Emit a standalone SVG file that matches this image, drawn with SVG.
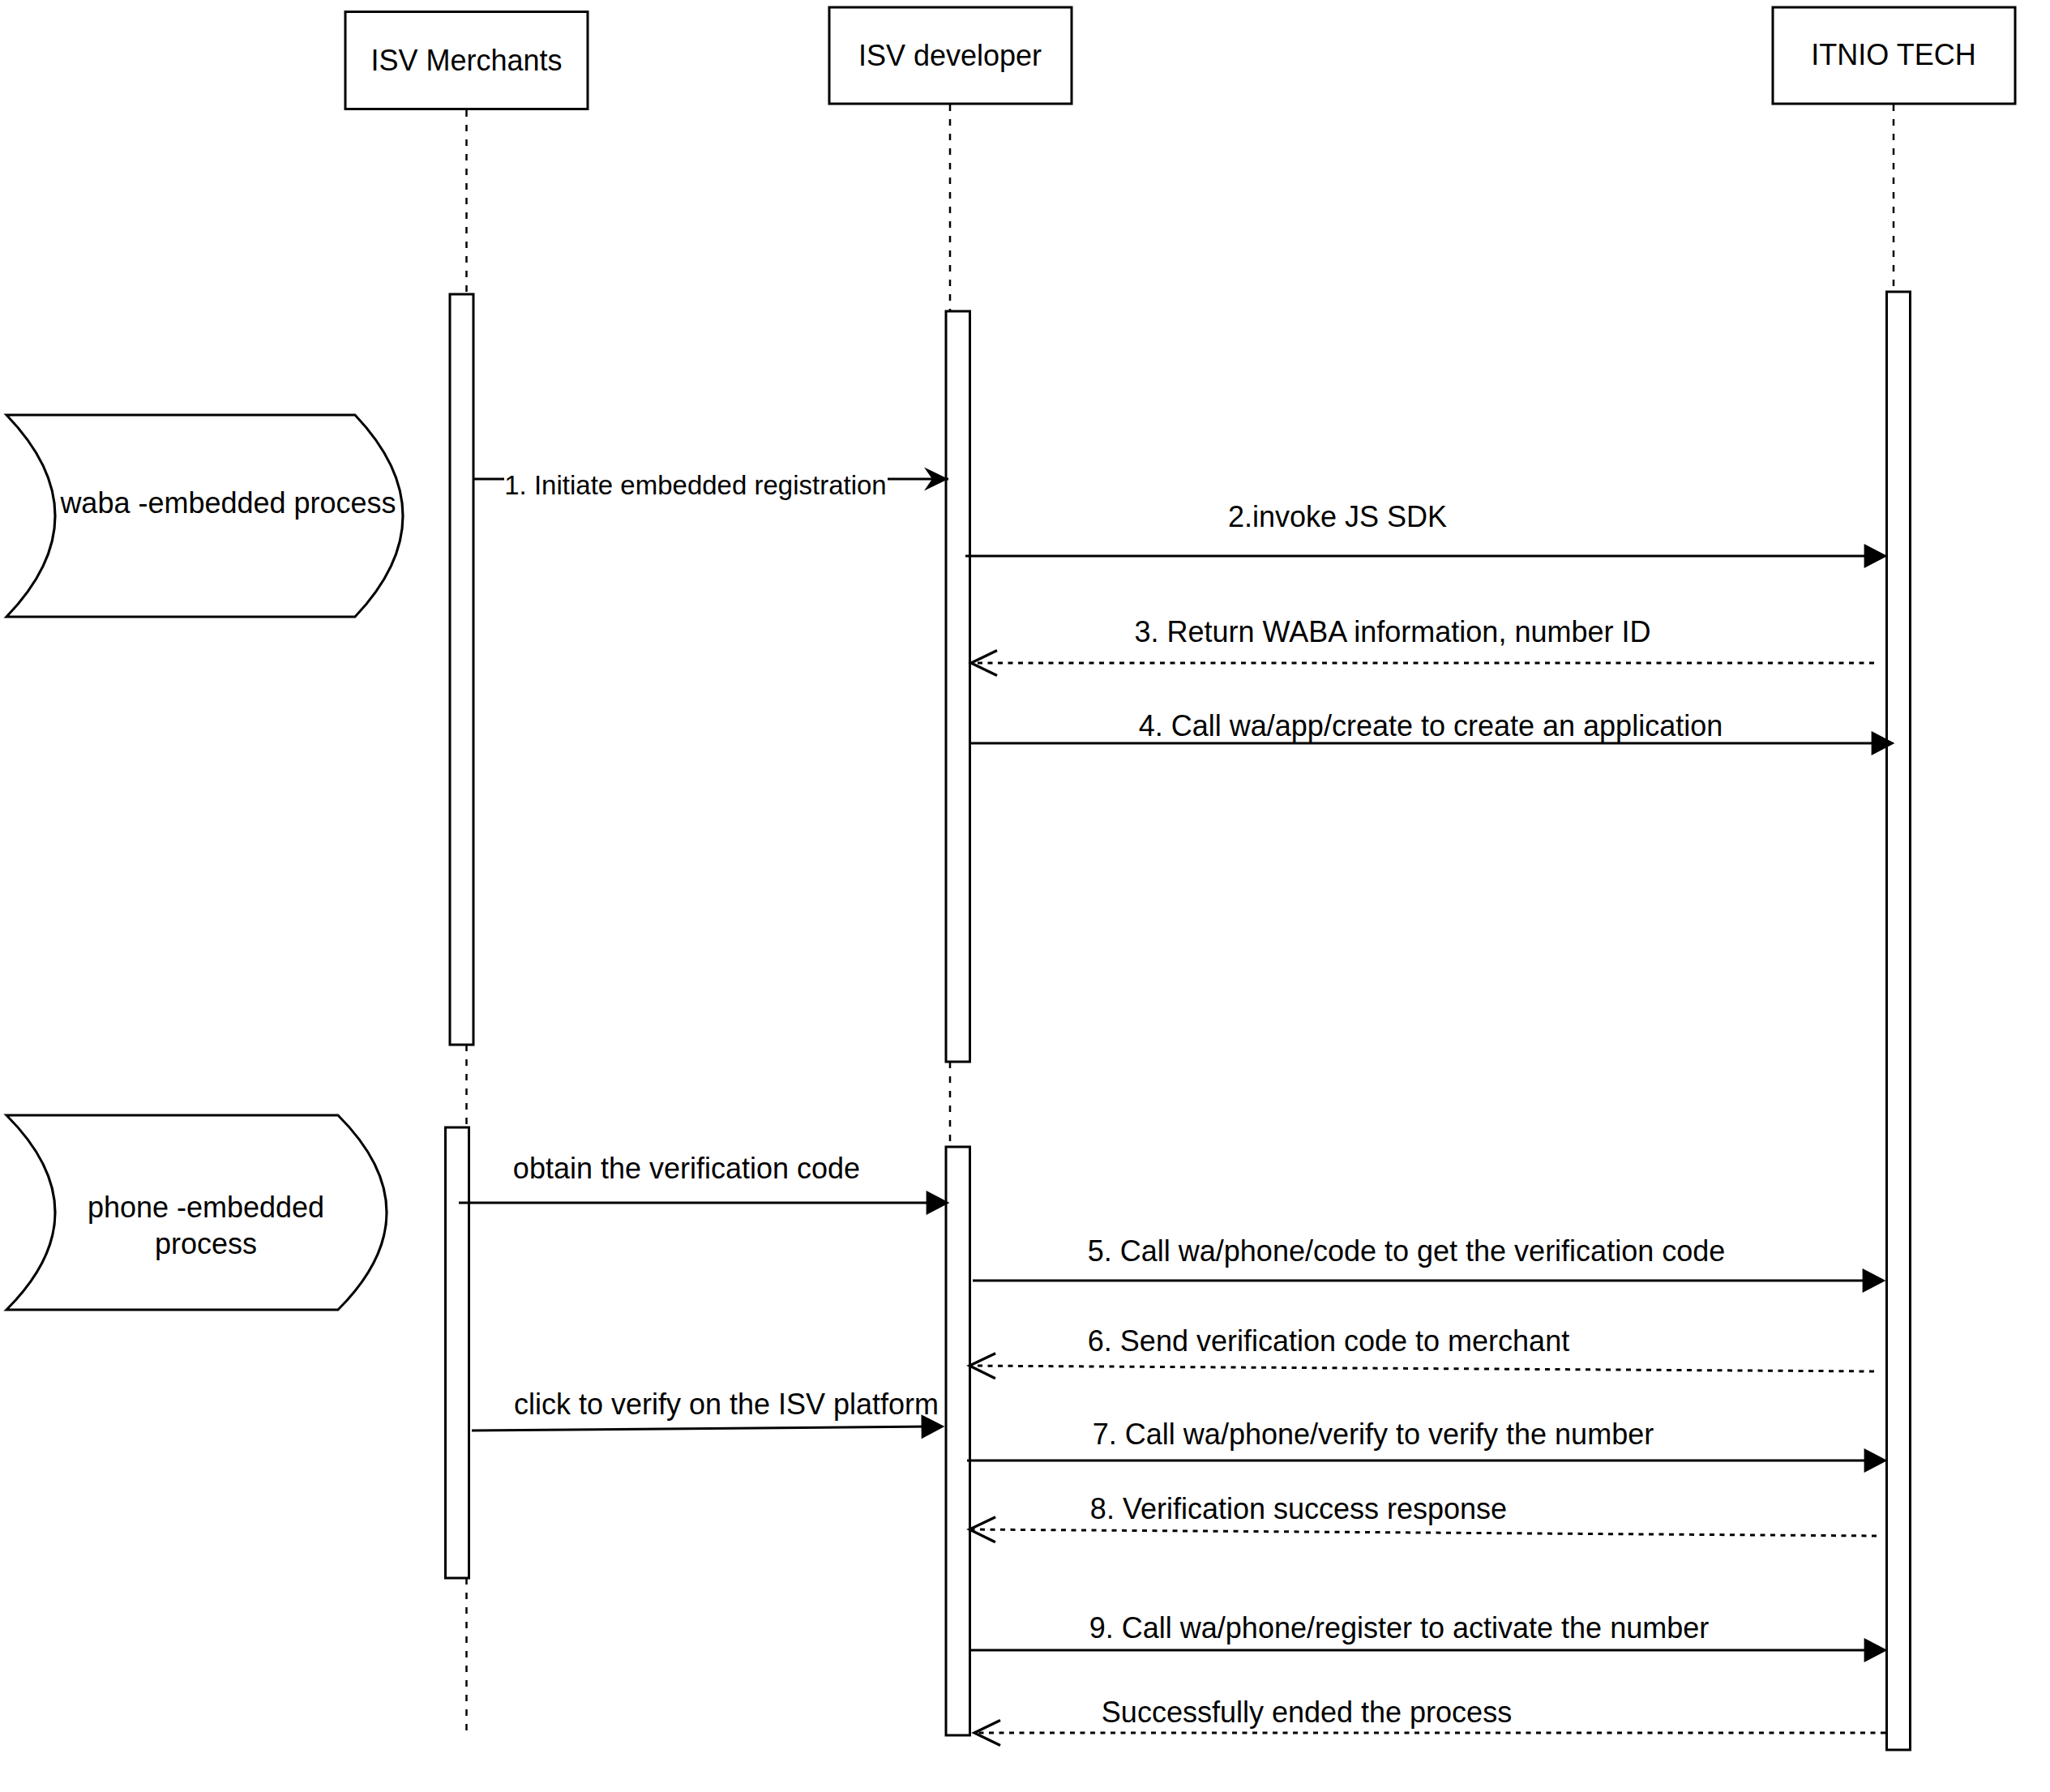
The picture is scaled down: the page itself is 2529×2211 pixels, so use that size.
<svg xmlns="http://www.w3.org/2000/svg" width="2529" height="2211" viewBox="0 0 2529 2211">
<style>
.box{fill:#fff;stroke:#000;stroke-width:3}
.bar{fill:#fff;stroke:#000;stroke-width:3}
.life{fill:none;stroke:#000;stroke-width:2.5;stroke-dasharray:8 10}
.msg{fill:none;stroke:#000;stroke-width:3}
.ret{fill:none;stroke:#000;stroke-width:3;stroke-dasharray:6 6.5}
.t{font-family:"Liberation Sans",Arial,sans-serif;font-size:36px;fill:#000;text-anchor:middle}
.te{font-family:"Liberation Sans",Arial,sans-serif;font-size:33px;fill:#000;text-anchor:middle}
</style>
<defs>
<marker id="block" markerUnits="userSpaceOnUse" markerWidth="30" markerHeight="30" viewBox="0 0 24 25" refX="12" refY="12.5" orient="auto" overflow="visible">
<path d="M0,0 L24,12.5 L0,25 Z" fill="#000"/>
</marker>
<marker id="classic" markerUnits="userSpaceOnUse" markerWidth="30" markerHeight="30" viewBox="0 0 27 26" refX="27" refY="13" orient="auto" overflow="visible">
<path d="M0,0 L27,13 L0,26 L9,13 Z" fill="#000"/>
</marker>
<marker id="open" markerUnits="userSpaceOnUse" markerWidth="32" markerHeight="32" viewBox="0 0 29 28" refX="29" refY="14" orient="auto" overflow="visible">
<path d="M0,0 L29,14 L0,28" fill="none" stroke="#000" stroke-width="3"/>
</marker>
</defs>
<rect width="2529" height="2211" fill="#fff"/>

<g id="lifelines">
<path class="life" d="M575.5,136 V362 M575.5,1289 V1391 M575.5,1947 V2135"/>
<path class="life" d="M1172,129 V384 M1172,1310 V1415"/>
<path class="life" d="M2336,129 V360"/>
</g>

<g id="isv-merchants">
<rect class="box" x="426" y="14.5" width="299" height="120"/>
<text class="t" x="575.5" y="87">ISV Merchants</text>
</g>
<g id="isv-developer">
<rect class="box" x="1023" y="9" width="299" height="119"/>
<text class="t" x="1172" y="81">ISV developer</text>
</g>
<g id="itnio-tech">
<rect class="box" x="2187" y="9" width="299" height="119"/>
<text class="t" x="2336" y="80">ITNIO TECH</text>
</g>

<g id="merchant-activation-1"><rect class="bar" x="555" y="363" width="29" height="926"/></g>
<g id="merchant-activation-2"><rect class="bar" x="549.5" y="1391" width="29" height="556"/></g>
<g id="developer-activation-1"><rect class="bar" x="1167" y="384" width="29.5" height="926"/></g>
<g id="developer-activation-2"><rect class="bar" x="1167" y="1415" width="29.5" height="726"/></g>
<g id="itnio-activation"><rect class="bar" x="2327.5" y="360" width="29" height="1799"/></g>

<g id="waba-process">
<path class="box" d="M8,512 H438 Q556,636.5 438,761 H8 Q128,636.5 8,512 Z"/>
<text class="t" x="281.5" y="633">waba -embedded process</text>
</g>
<g id="phone-process">
<path class="box" d="M8,1376 H417 Q537,1496 417,1616 H8 Q128,1496 8,1376 Z"/>
<text class="t" x="254" y="1502">phone -embedded</text>
<text class="t" x="254" y="1547">process</text>
</g>

<g id="connectors">
<path class="msg" d="M585,591 H1170" marker-end="url(#classic)"/>
<path class="msg" d="M1191,686 H2314" marker-end="url(#block)"/>
<path class="ret" d="M2312,818 H1198" marker-end="url(#open)"/>
<path class="msg" d="M1196,917 H2323" marker-end="url(#block)"/>
<path class="msg" d="M566,1484 H1157" marker-end="url(#block)"/>
<path class="msg" d="M1200,1580 H2312" marker-end="url(#block)"/>
<path class="ret" d="M2312,1692 L1196,1685" marker-end="url(#open)"/>
<path class="msg" d="M582,1765 L1151,1760.1" marker-end="url(#block)"/>
<path class="msg" d="M1193,1802 H2314" marker-end="url(#block)"/>
<path class="ret" d="M2315,1895 L1196,1887" marker-end="url(#open)"/>
<path class="msg" d="M1196,2036 H2314" marker-end="url(#block)"/>
<path class="ret" d="M2326,2138 H1202" marker-end="url(#open)"/>
</g>

<g id="labels">
<rect x="622" y="574" width="473" height="42" fill="#fff"/>
<text class="te" x="858" y="610">1. Initiate embedded registration</text>
<text class="t" x="1650" y="650">2.invoke JS SDK</text>
<text class="t" x="1718" y="792">3. Return WABA information, number ID</text>
<text class="t" x="1765" y="908">4. Call wa/app/create to create an application</text>
<text class="t" x="847" y="1454">obtain the verification code</text>
<text class="t" x="1735" y="1556">5. Call wa/phone/code to get the verification code</text>
<text class="t" x="1639" y="1667">6. Send verification code to merchant</text>
<text class="t" x="896" y="1745">click to verify on the ISV platform</text>
<text class="t" x="1694" y="1782">7. Call wa/phone/verify to verify the number</text>
<text class="t" x="1602" y="1874">8. Verification success response</text>
<text class="t" x="1726" y="2021">9. Call wa/phone/register to activate the number</text>
<text class="t" x="1612" y="2125">Successfully ended the process</text>
</g>
</svg>
